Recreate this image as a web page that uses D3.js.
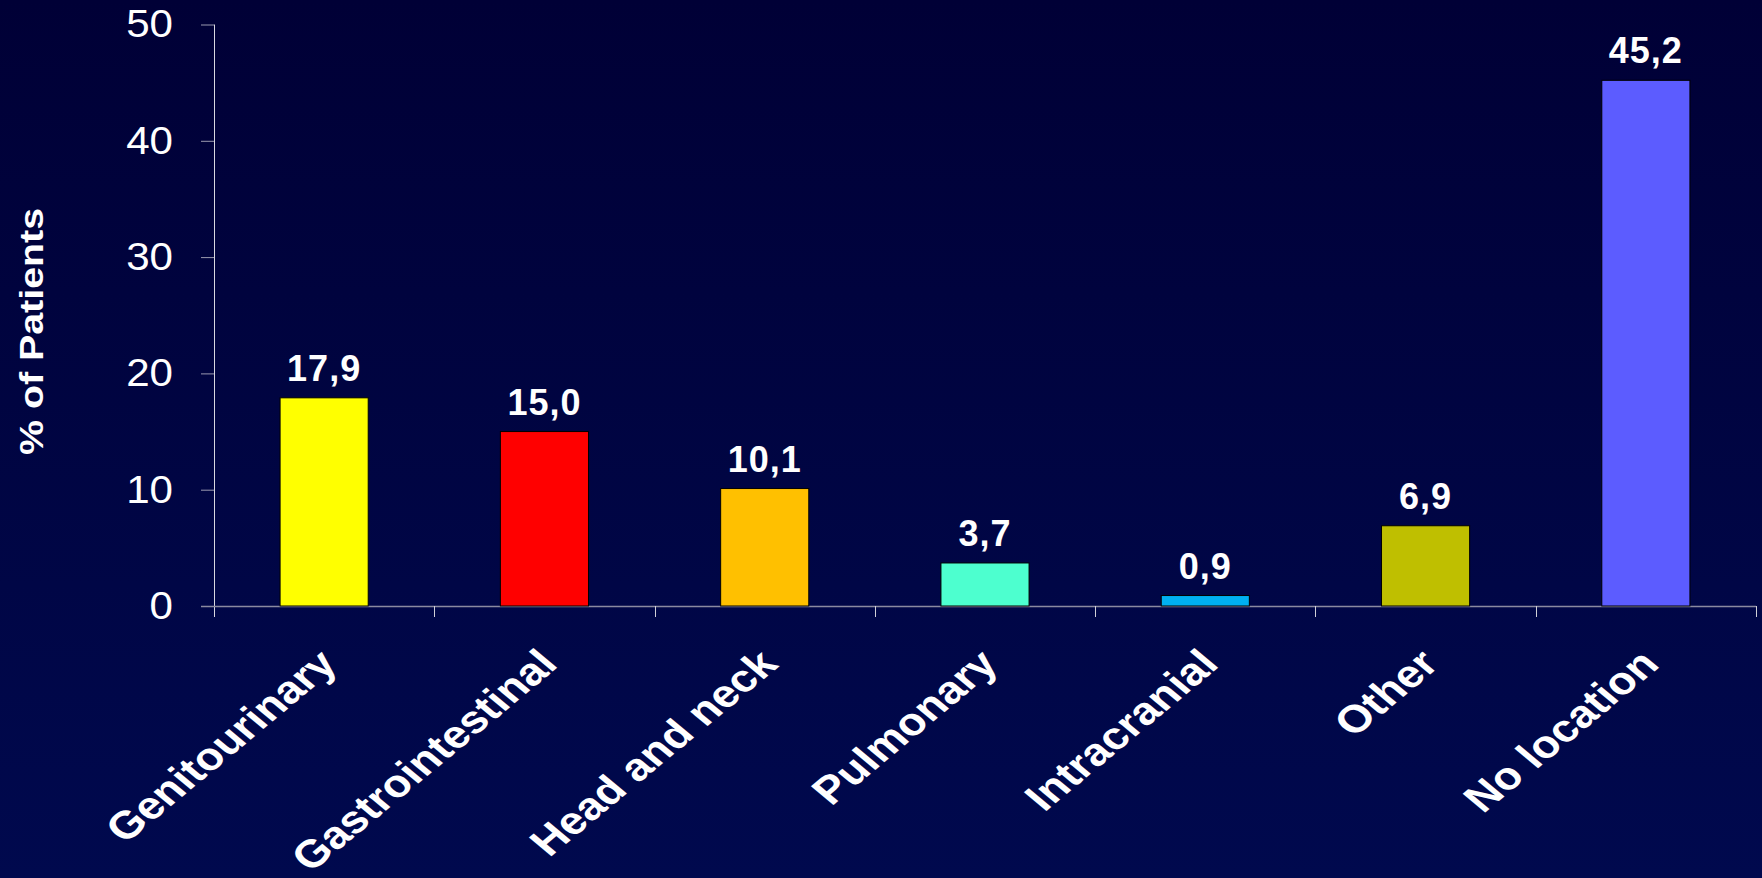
<!DOCTYPE html>
<html>
<head>
<meta charset="utf-8">
<script src="https://cdn.jsdelivr.net/npm/d3@7"></script>
<style>
html,body{margin:0;padding:0;background:#000033;}
svg{display:block;}
text{font-family:"Liberation Sans",Arial,Helvetica,sans-serif;}
</style>
</head>
<body>
<svg id="chart" width="1762" height="878"></svg>
<script>
const categories = ["Genitourinary","Gastrointestinal","Head and neck","Pulmonary","Intracranial","Other","No location"];
const values = [17.9, 15.0, 10.1, 3.7, 0.9, 6.9, 45.2];
const valueLabels = ["17,9","15,0","10,1","3,7","0,9","6,9","45,2"];
const barColors = ["#FFFF00","#FF0000","#FFC000","#4DFFCF","#00B0F0","#BFBF00","#5C5CFF"];
const yTicks = [0,10,20,30,40,50];
const yTitle = "% of Patients";

const W = 1762, H = 878;
const svg = d3.select("#chart");

const defs = svg.append("defs");
const grad = defs.append("linearGradient").attr("id","bg").attr("x1",0).attr("y1",0).attr("x2",0).attr("y2",1);
grad.append("stop").attr("offset","0%").attr("stop-color","#000036");
grad.append("stop").attr("offset","100%").attr("stop-color","#00094e");
svg.append("rect").attr("width",W).attr("height",H).attr("fill","url(#bg)");

const x = d3.scaleBand().domain(categories).range([214, 1756]).padding(0);
const y = d3.scaleLinear().domain([0, 50]).range([606, 24.5]);

// Y axis
const yAxis = svg.append("g").attr("transform","translate(214,0)")
  .call(d3.axisLeft(y).tickValues(yTicks).tickSize(13).tickPadding(28).tickFormat(d3.format("d")));
yAxis.select(".domain").remove();
yAxis.selectAll(".tick line").attr("stroke","#9a9ab0").attr("stroke-width",1);
yAxis.selectAll(".tick text").attr("fill","#ffffff").attr("font-size",39)
  .attr("font-family","'Liberation Sans',Arial,sans-serif")
  .attr("transform","scale(1.08,1)");
yAxis.selectAll(".tick text").each(function(){
  const t = d3.select(this);
  t.attr("x", +t.attr("x")/1.08);
});
svg.append("line").attr("x1",214.5).attr("x2",214.5).attr("y1",y(50)).attr("y2",617)
  .attr("stroke","#d8d8e0").attr("stroke-width",1);

// X axis
const xAxis = svg.append("g").attr("transform","translate(0,606)");
xAxis.append("line").attr("x1",201).attr("x2",1756).attr("y1",0.5).attr("y2",0.5)
  .attr("stroke","#8a8aa0").attr("stroke-width",1.5);
const boundaries = categories.map(c => x(c) + x.bandwidth());
xAxis.selectAll("line.xt").data(boundaries).enter().append("line").attr("class","xt")
  .attr("x1",d=>Math.round(d)+0.5).attr("x2",d=>Math.round(d)+0.5).attr("y1",0).attr("y2",11)
  .attr("stroke","#d0d0d8").attr("stroke-width",1);

// Bars
const bw = x.bandwidth()*0.4;
svg.selectAll("rect.bar").data(values).enter().append("rect").attr("class","bar")
  .attr("x",(d,i)=>x(categories[i]) + (x.bandwidth()-bw)/2)
  .attr("y",d=>y(d))
  .attr("width",bw)
  .attr("height",d=>y(0)-y(d))
  .attr("fill",(d,i)=>barColors[i])
  .attr("stroke","#000000").attr("stroke-width",1);

// Value labels
svg.selectAll("text.val").data(values).enter().append("text").attr("class","val")
  .attr("x",(d,i)=>x(categories[i]) + x.bandwidth()/2)
  .attr("y",d=>y(d) - 17)
  .attr("text-anchor","middle")
  .attr("fill","#ffffff").attr("font-weight","bold").attr("font-size",36)
  .attr("letter-spacing",1)
  .text((d,i)=>valueLabels[i]);

// X labels
svg.selectAll("text.xl").data(categories).enter().append("text").attr("class","xl")
  .attr("transform",d=>`translate(${x(d)+x.bandwidth()/2+15},666) scale(1.2,1) rotate(-45)`)
  .attr("text-anchor","end")
  .attr("fill","#ffffff").attr("font-weight","bold").attr("font-size",38.5)
  .text(d=>d);

// Y title
svg.append("text")
  .attr("transform","translate(43,331.5) rotate(-90)")
  .attr("text-anchor","middle")
  .attr("fill","#ffffff").attr("font-weight","bold").attr("font-size",33)
  .attr("textLength",247).attr("lengthAdjust","spacingAndGlyphs")
  .text(yTitle);
</script>
</body>
</html>
